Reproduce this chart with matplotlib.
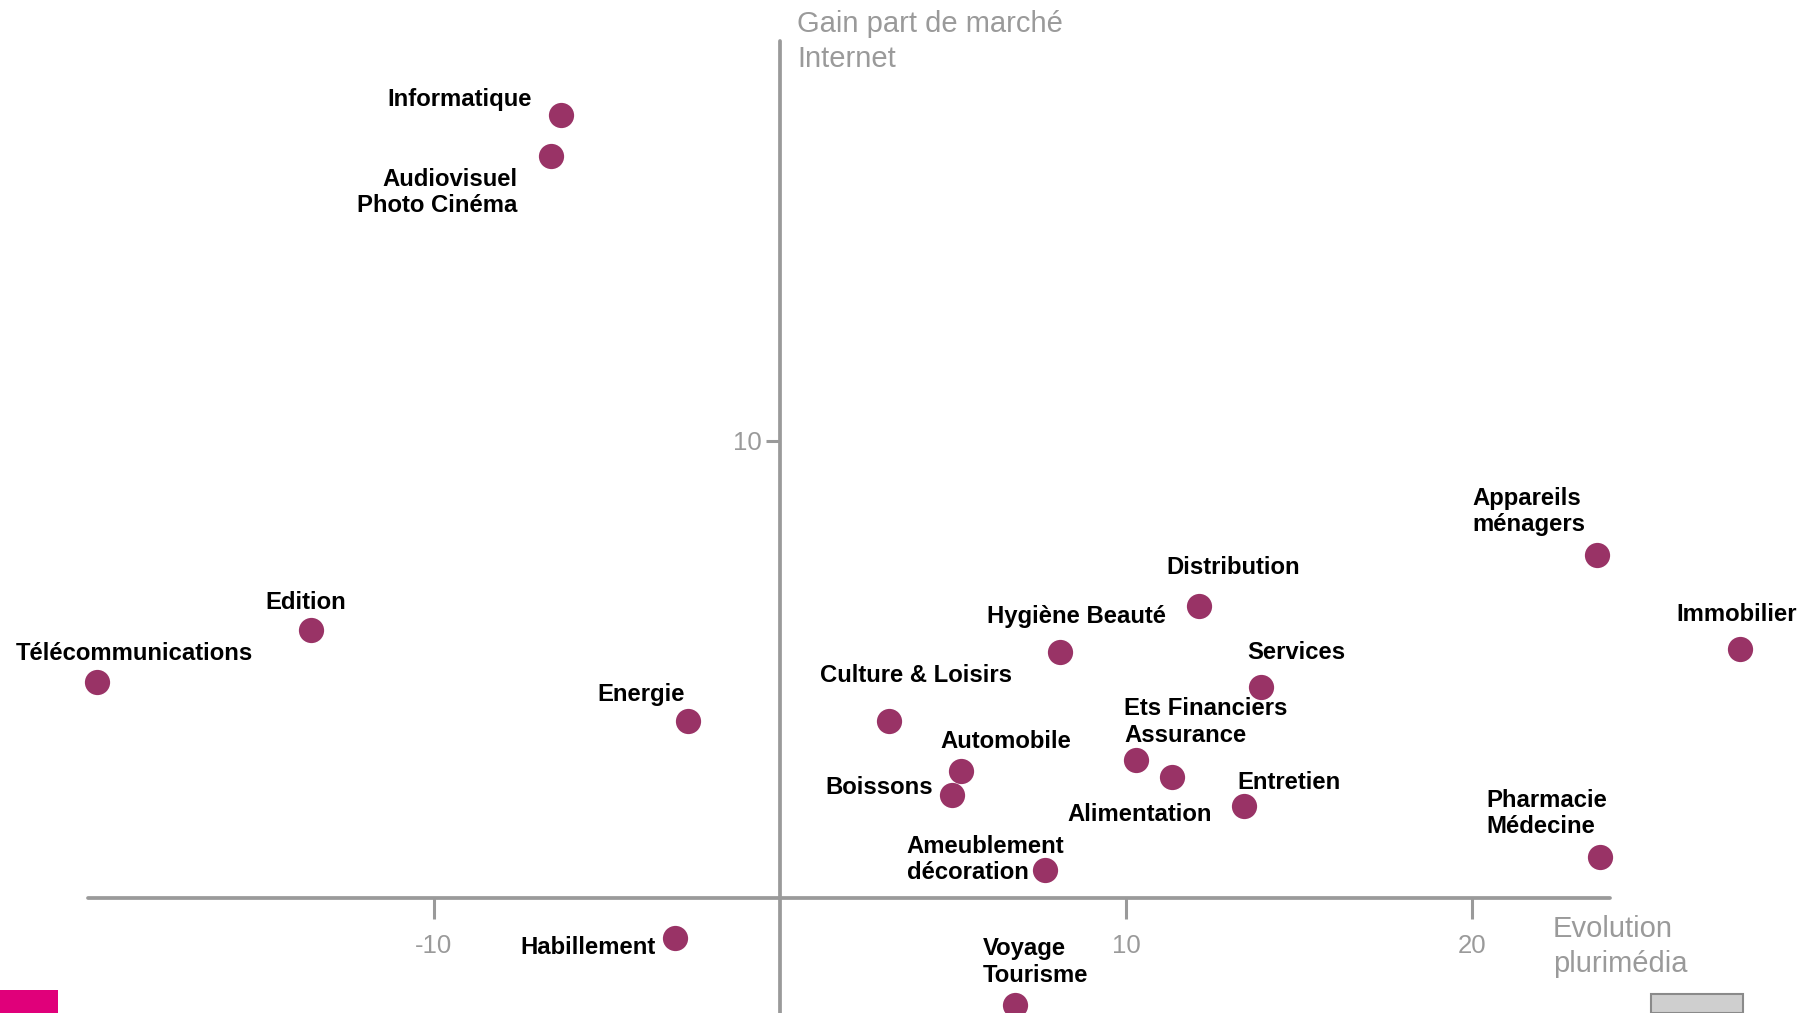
import matplotlib
matplotlib.use("Agg")
import matplotlib.pyplot as plt
from matplotlib.patches import Rectangle

plt.rcParams["font.family"] = ["Liberation Sans", "DejaVu Sans"]
plt.rcParams["axes.unicode_minus"] = False

# Secteurs : évolution plurimédia (x) et gain de part de marché Internet (y)
sectors = [
    "Informatique", "Audiovisuel\nPhoto Cinéma", "Edition", "Télécommunications",
    "Energie", "Habillement", "Culture & Loisirs", "Automobile", "Boissons",
    "Ameublement\ndécoration", "Voyage\nTourisme", "Hygiène Beauté", "Distribution",
    "Services", "Ets Financiers\nAssurance", "Alimentation", "Entretien",
    "Appareils\nménagers", "Immobilier", "Pharmacie\nMédecine",
]
evolution = [-6.34, -6.61, -13.54, -19.74, -2.66, -3.03, 3.16, 5.24, 4.97,
             7.65, 6.78, 8.08, 12.10, 13.91, 10.29, 11.33, 13.41, 23.62, 27.74, 23.69]
gain_internet = [17.13, 16.22, 5.86, 4.72, 3.87, -0.87, 3.88, 2.77, 2.26,
                 0.62, -2.34, 5.38, 6.39, 4.62, 3.02, 2.64, 2.01, 7.51, 5.45, 0.89]

x_ticks = [-10, 10, 20]
y_ticks = [10]

# label placement: (dx, dy) in pixels from the dot, horizontal alignment
label_pos = {
    "Informatique": (-29, 15, "right"),
    "Audiovisuel\nPhoto Cinéma": (-34, -36, "right"),
    "Edition": (-6, 28, "center"),
    "Télécommunications": (37, 29, "center"),
    "Energie": (-3, 27, "right"),
    "Habillement": (-19, -10, "right"),
    "Culture & Loisirs": (-69, 45, "left"),
    "Automobile": (-21, 30, "left"),
    "Boissons": (-19, 7, "right"),
    "Ameublement\ndécoration": (-138, 10, "left"),
    "Voyage\nTourisme": (-32, 43, "left"),
    "Hygiène Beauté": (-73, 36, "left"),
    "Distribution": (-32, 38, "left"),
    "Services": (-14, 34, "left"),
    "Ets Financiers\nAssurance": (-12, 38, "left"),
    "Alimentation": (-105, -37, "left"),
    "Entretien": (-7, 24, "left"),
    "Appareils\nménagers": (-125, 43, "left"),
    "Immobilier": (-3, 34, "center"),
    "Pharmacie\nMédecine": (-113, 44, "left"),
}

GREY = "#9a9a9a"
DOT = "#993366"

fig = plt.figure(figsize=(18.16, 10.13), dpi=100)
ax = fig.add_axes([0, 0, 1, 1])
ax.set_xlim(-22.54, 29.94)
ax.set_ylim(-2.515, 19.64)

# axes crossing at the origin
for side in ("top", "right"):
    ax.spines[side].set_visible(False)
ax.spines["left"].set_position(("data", 0))
ax.spines["bottom"].set_position(("data", 0))
ax.spines["left"].set_bounds(-3, 18.74)
ax.spines["bottom"].set_bounds(-20, 24)
for side in ("left", "bottom"):
    ax.spines[side].set_color(GREY)
    ax.spines[side].set_linewidth(2.7)
    ax.spines[side].set_capstyle("round")

ax.set_xticks(x_ticks)
ax.set_yticks(y_ticks)
ax.set_xticklabels([str(t) for t in x_ticks])
ax.set_yticklabels([str(t) for t in y_ticks])
ax.tick_params(axis="x", direction="out", length=15, width=2.2, color=GREY,
               labelcolor=GREY, labelsize=18.5, pad=11)
ax.tick_params(axis="y", direction="out", length=10, width=2.2, color=GREY,
               labelcolor=GREY, labelsize=18.5, pad=3)

ax.scatter(evolution, gain_internet, s=330, color=DOT, zorder=5,
           linewidths=0, clip_on=False)

for name, x, y in zip(sectors, evolution, gain_internet):
    dx, dy, ha = label_pos[name]
    ax.annotate(name, (x, y), xytext=(dx, dy), textcoords="offset pixels",
                ha=ha, va="center", multialignment=ha if ha != "center" else "center",
                fontsize=17.2, fontweight="bold", color="black", linespacing=1.2,
                zorder=6)

# axis titles
fig.text(797 / 1816, 1 - 10 / 1013, "Gain part de marché\nInternet", ha="left", va="top",
         fontsize=21, color=GREY, linespacing=1.3)
fig.text(1553 / 1816, 1 - 915 / 1013, "Evolution\nplurimédia", ha="left", va="top",
         fontsize=21, color=GREY, linespacing=1.3)

# footer marks
fig.patches.append(Rectangle((0, 0), 58 / 1816, 23 / 1013, transform=fig.transFigure,
                             facecolor="#e0007a", edgecolor="none"))
fig.patches.append(Rectangle((1651 / 1816, 0), 92 / 1816, 19 / 1013, transform=fig.transFigure,
                             facecolor="#cfcfcf", edgecolor="#8a8a8a", linewidth=1.5))

fig.savefig("out.png", dpi=100)
